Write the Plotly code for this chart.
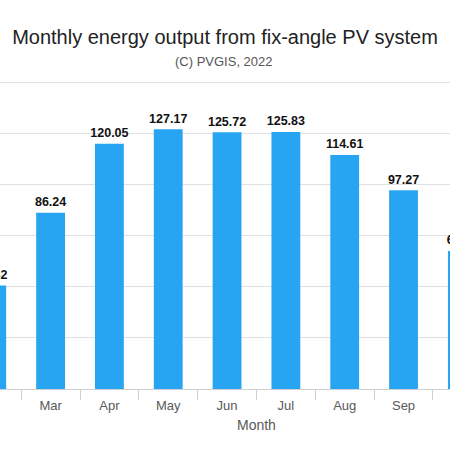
import plotly.graph_objects as go

months = ["Feb", "Mar", "Apr", "May", "Jun", "Jul", "Aug", "Sep", "Oct"]
energy = [50.62, 86.24, 120.05, 127.17, 125.72, 125.83, 114.61, 97.27, 67.58]
labels = ["50.62", "86.24", "120.05", "127.17", "125.72", "125.83", "114.61", "97.27", "67.58"]

FONT = "Arial, Liberation Sans, sans-serif"

fig = go.Figure()
fig.add_trace(go.Bar(
    x=months, y=energy,
    marker=dict(color="#27a4f2", line=dict(width=0)),
    hoverinfo="skip",
))
fig.add_trace(go.Scatter(
    x=months, y=energy, text=labels, mode="markers+text", textposition="top center",
    marker=dict(size=4, color="rgba(0,0,0,0)"),
    textfont=dict(family=FONT, size=12.5, color="#111111", weight="bold"),
    cliponaxis=True, hoverinfo="skip",
))

H = 450
top, bottom = 80, 61
fig.update_layout(
    width=450, height=450,
    margin=dict(l=0, r=0, t=top, b=bottom),
    paper_bgcolor="white", plot_bgcolor="white",
    bargap=0.51, showlegend=False,
    title=dict(text="Monthly energy output from fix-angle PV system",
               x=0.5, xanchor="center", y=1 - 37 / H, yanchor="middle", yref="container",
               font=dict(family=FONT, size=20, color="#222222")),
    font=dict(family=FONT),
)
fig.update_xaxes(
    type="category", range=[0.14, 7.79],
    tickson="boundaries", ticks="outside", ticklen=10, tickcolor="#d0d0d0", tickwidth=1,
    showgrid=False, showline=True, linecolor="#d0d0d0", linewidth=1,
    ticklabelstandoff=4,
    tickfont=dict(family=FONT, size=13, color="#595959"),
)
fig.update_yaxes(
    range=[0, 151.3], dtick=25, showticklabels=False, showgrid=True,
    gridcolor="#e0e0e0", gridwidth=1, zeroline=False, showline=False,
)
plot_h = H - top - bottom
fig.add_annotation(text="(C) PVGIS, 2022", xref="paper", yref="paper",
                   x=224 / 450, y=1 + (top - 61.5) / plot_h, showarrow=False,
                   xanchor="center", yanchor="middle",
                   font=dict(family=FONT, size=13, color="#555555"))
fig.add_annotation(text="Month", xref="paper", yref="paper",
                   x=256 / 450, y=(389 - 425) / plot_h, showarrow=False,
                   xanchor="center", yanchor="middle",
                   font=dict(family=FONT, size=14, color="#595959"))

fig.write_html("out.html", config={"displayModeBar": False},
               post_script="document.body.style.margin='0';")
